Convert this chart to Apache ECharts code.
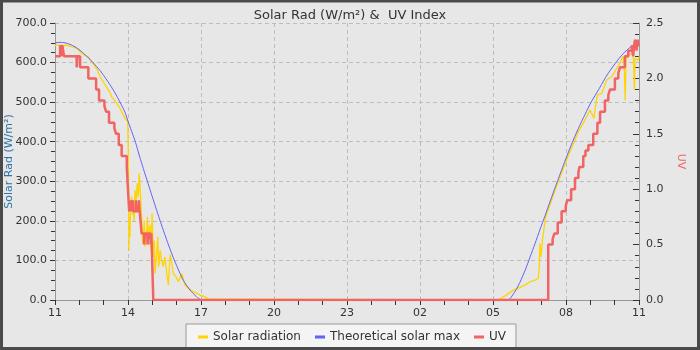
<!DOCTYPE html>
<html><head><meta charset="utf-8">
<script src="https://cdn.jsdelivr.net/npm/echarts@6/dist/echarts.min.js"></script>
<style>html,body{margin:0;padding:0;background:#e7e7e7}#c{width:700px;height:350px}</style>
</head><body><div id="c"></div><script>
// x values: hours since 11:00 (0..24)
const xTickLabels = ['11','14','17','20','23','02','05','08','11'];
const leftTicks = [0,100,200,300,400,500,600,700];
const rightTicks = [0,0.5,1,1.5,2,2.5];

const solarT = [0.00,0.12,0.21,0.25,0.33,0.41,0.49,0.70,0.89,1.10,1.37,1.57,1.73,1.85,1.98,2.10,2.26,2.34,2.47,2.67,2.88,2.99,3.00,3.02,3.04,3.06,3.08,3.11,3.15,3.18,3.22,3.25,3.29,3.33,3.38,3.42,3.46,3.51,3.56,3.60,3.63,3.67,3.70,3.77,3.80,3.83,3.87,3.90,3.95,3.99,4.04,4.08,4.11,4.18,4.22,4.26,4.32,4.38,4.45,4.52,4.59,4.66,4.73,4.80,4.86,4.97,5.07,5.21,5.34,5.48,5.68,5.96,6.16,6.34,6.39,
  18.21,18.29,18.56,18.84,19.11,19.38,19.52,19.73,19.86,19.90,19.93,19.97,20.00,20.03,20.07,20.14,20.21,20.34,20.55,20.75,21.03,21.23,21.29,21.50,21.71,21.99,22.07,22.15,22.19,22.29,22.47,22.67,22.88,23.08,23.22,23.33,23.39,23.43,23.47,23.56,23.70,23.77,23.81,23.84,23.88,23.97,24.00];
const solarV = [642,645,640,646,638,645,643,640,636,623,614,597,583,564,552,540,524,512,503,484,459,451,420,330,126,210,160,244,261,215,227,200,278,245,295,260,320,270,210,143,160,200,135,177,210,143,180,190,126,219,109,150,67,118,160,84,126,101,84,109,67,38,114,93,67,59,46,67,38,30,21,13,8,2,0,
  0,2,13,25,32,40,46,50,55,84,143,109,126,152,168,202,219,240,278,310,355,385,392,425,447,480,485,459,480,518,522,556,564,585,598,615,600,505,610,619,623,615,531,610,611,606,615];

const maxT = [0.00,0.21,0.41,0.62,0.82,1.03,1.23,1.44,1.56,1.85,2.05,2.26,2.47,2.67,2.88,3.01,3.29,3.49,3.77,4.04,4.32,4.59,4.86,5.14,5.27,5.55,5.82,6.03,
  18.62,18.78,18.95,19.11,19.32,19.52,19.73,19.93,20.14,20.34,20.63,20.92,21.25,21.58,21.99,22.40,22.68,23.01,23.34,23.67,24.00];
const maxV = [650,651,650,646,640,631,620,608,600,580,563,544,523,500,474,450,402,360,305,253,200,152,107,67,50,25,8,0,
  0,10,26,45,75,108,143,178,213,248,297,345,397,443,495,538,568,597,622,640,652];

const uvT = [0,0.21,0.26,0.30,0.37,0.89,0.92,1.03,1.37,1.69,1.81,2.03,2.10,2.22,2.44,2.51,2.62,2.74,2.95,3.01,3.05,3.10,3.13,3.20,3.22,3.33,3.36,3.45,3.48,3.56,3.66,3.70,3.80,3.84,3.93,3.96,4.04,
  20.27,20.45,20.52,20.66,20.82,20.99,21.05,21.21,21.37,21.51,21.55,21.71,21.80,21.92,22.12,22.29,22.40,22.60,22.74,22.81,23.01,23.15,23.22,23.42,23.56,23.70,23.76,23.80,23.84,23.90,23.94,23.97,24.00];
const uvV = [2.2,2.3,2.2,2.3,2.2,2.1,2.2,2.1,2.0,1.9,1.8,1.75,1.7,1.6,1.55,1.5,1.4,1.3,1.2,0.95,0.8,0.9,0.8,0.9,0.8,0.9,0.8,0.9,0.8,0.6,0.5,0.6,0.5,0.6,0.5,0.6,0,
  0.5,0.55,0.6,0.7,0.8,0.85,0.9,1.0,1.1,1.15,1.2,1.3,1.35,1.4,1.5,1.6,1.7,1.8,1.85,1.9,2.0,2.05,2.1,2.2,2.25,2.3,2.2,2.3,2.35,2.25,2.35,2.3,2.3];

const zip = (a,b) => a.map((t,i)=>[t,b[i]]);
const FONT = 'DejaVu Sans';
const chart = echarts.init(document.getElementById('c'), null, {renderer:'canvas'});
chart.setOption({
  animation:false,
  backgroundColor:'#e7e7e7',
  textStyle:{fontFamily:FONT},
  title:{text:'Solar Rad (W/m²) &  UV Index',left:'center',top:4,
    textStyle:{fontFamily:FONT,fontSize:13,fontWeight:'normal',color:'#333'}},
  legend:{data:['Solar radiation','Theoretical solar max','UV'],left:186,top:324,
    icon:'rect',itemWidth:10,itemHeight:3,itemGap:14,
    padding:[7,10,12,12],borderColor:'#999',borderWidth:1,backgroundColor:'#f4f4f4',
    textStyle:{fontFamily:FONT,fontSize:12,color:'#333'}},
  grid:{left:55,right:61,top:23,bottom:50,containLabel:false,outerBoundsMode:'none'},
  xAxis:{type:'value',min:0,max:24,interval:3,
    axisLine:{lineStyle:{color:'#999'}},
    axisTick:{length:5,lineStyle:{color:'#333'}},
    minorTick:{show:true,splitNumber:3,length:5,lineStyle:{color:'#333'}},
    axisLabel:{margin:8,fontFamily:FONT,fontSize:11,color:'#333',
      formatter:v=>xTickLabels[Math.round(v/3)]},
    splitLine:{show:true,lineStyle:{color:'#bdbdbd',type:[4,3]}}},
  yAxis:[
    {type:'value',min:leftTicks[0],max:leftTicks[leftTicks.length-1],interval:100,
      name:'Solar Rad (W/m²)',nameLocation:'middle',nameGap:40,nameMoveOverlap:false,
      nameTextStyle:{color:'#2e74a6',fontFamily:FONT,fontSize:11},
      axisLine:{show:true,lineStyle:{color:'#999'}},
      axisTick:{show:true,length:5,lineStyle:{color:'#333'}},
      minorTick:{show:true,splitNumber:4,length:4,lineStyle:{color:'#333'}},
      axisLabel:{margin:8,fontFamily:FONT,fontSize:11,color:'#333',formatter:v=>v.toFixed(1)},
      splitLine:{show:true,lineStyle:{color:'#bdbdbd',type:[4,3]}}},
    {type:'value',min:rightTicks[0],max:rightTicks[rightTicks.length-1],interval:0.5,position:'right',
      name:'UV',nameLocation:'middle',nameGap:36,nameRotate:-90,nameMoveOverlap:false,
      nameTextStyle:{color:'#f26363',fontFamily:FONT,fontSize:11},
      axisLine:{show:true,lineStyle:{color:'#999'}},
      axisTick:{show:true,inside:true,length:6,lineStyle:{color:'#333'}},
      minorTick:{show:true,splitNumber:5,length:4,lineStyle:{color:'#333'}},
      axisLabel:{margin:7,fontFamily:FONT,fontSize:11,color:'#333',formatter:v=>v.toFixed(1)},
      splitLine:{show:false}}
  ],
  series:[
    {name:'Solar radiation',type:'line',data:zip(solarT,solarV),showSymbol:false,
      lineStyle:{width:1.3,color:'#ffd400'},itemStyle:{color:'#ffd400'}},
    {name:'Theoretical solar max',type:'line',data:zip(maxT,maxV),showSymbol:false,smooth:0.2,
      lineStyle:{width:1,color:'#6262f5'},itemStyle:{color:'#6262f5'}},
    {name:'UV',type:'line',yAxisIndex:1,step:'end',data:zip(uvT,uvV),showSymbol:false,
      lineStyle:{width:2.5,color:'#f26363'},itemStyle:{color:'#f26363'}}
  ],
  graphic:[{type:'rect',silent:true,z:100,shape:{x:1.5,y:1,width:697,height:347.5},
    style:{fill:'none',stroke:'#4a4a4a',lineWidth:3}}]
});
</script></body></html>
